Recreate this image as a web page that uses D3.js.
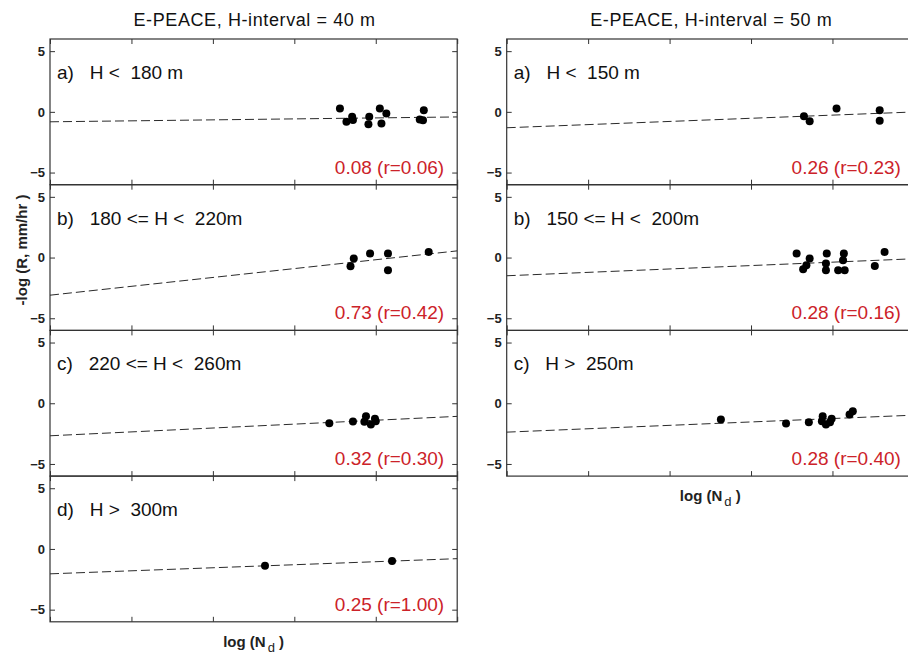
<!DOCTYPE html>
<html>
<head>
<meta charset="utf-8">
<script src="https://cdn.jsdelivr.net/npm/d3@7"></script>
<style>
  html, body { margin: 0; padding: 0; background: #fff; }
  svg { display: block; font-family: "Liberation Sans", Arial, sans-serif; }
  .pre { white-space: pre; }
</style>
</head>
<body>
<svg id="chart" width="908" height="656"></svg>
<script>
// Rain-rate sensitivity to droplet number, binned by cloud thickness H.
const xDomain = [0, 5];
const yDomain = [-6, 6];
const xTicks = [0, 1, 2, 3, 4, 5];
const yTicks = [-5, 0, 5];

const columnTitles = ["E-PEACE, H-interval = 40 m", "E-PEACE, H-interval = 50 m"];

// 40 m bins
const labels40 = ["a)   H <  180 m", "b)   180 <= H <  220m", "c)   220 <= H <  260m", "d)   H >  300m"];
const slopes40 = [0.08, 0.73, 0.32, 0.25];
const rValues40 = [0.06, 0.42, 0.30, 1.00];
const intercepts40 = [-0.82, -3.10, -2.68, -2.05];
const points40a = [[3.56, 0.28], [3.64, -0.82], [3.72, -0.68], [3.71, -0.41], [3.92, -0.41], [3.91, -1.03],
                   [4.05, 0.28], [4.07, -0.95], [4.13, -0.13], [4.59, 0.14], [4.54, -0.62], [4.58, -0.70]];
const points40b = [[3.69, -0.71], [3.73, -0.08], [3.93, 0.33], [4.15, 0.33], [4.15, -1.04], [4.65, 0.46]];
const points40c = [[3.43, -1.64], [3.72, -1.50], [3.88, -1.07], [3.86, -1.53], [3.94, -1.75], [3.99, -1.28], [4.00, -1.48]];
const points40d = [[2.64, -1.39], [4.20, -1.00]];

// 50 m bins
const labels50 = ["a)   H <  150 m", "b)   150 <= H <  200m", "c)   H >  250m"];
const slopes50 = [0.26, 0.28, 0.28];
const rValues50 = [0.23, 0.16, 0.40];
const intercepts50 = [-1.31, -1.50, -2.38];
const points50a = [[3.65, -0.36], [3.72, -0.77], [4.05, 0.27], [4.58, 0.14], [4.58, -0.74]];
const points50b = [[3.56, 0.33], [3.72, -0.08], [3.68, -0.63], [3.64, -0.96], [3.93, 0.33], [3.92, -0.49],
                   [3.92, -1.04], [4.14, 0.33], [4.13, -0.22], [4.07, -1.04], [4.15, -1.04], [4.52, -0.69], [4.64, 0.46]];
const points50c = [[2.63, -1.34], [3.43, -1.67], [3.71, -1.56], [3.88, -1.07], [3.87, -1.48], [3.92, -1.75],
                   [3.99, -1.28], [3.97, -1.56], [4.21, -0.93], [4.25, -0.66]];

const columns = [
  { title: columnTitles[0], labels: labels40, slopes: slopes40, rs: rValues40, icpt: intercepts40,
    pts: [points40a, points40b, points40c, points40d], left: 50, yLabel: true },
  { title: columnTitles[1], labels: labels50, slopes: slopes50, rs: rValues50, icpt: intercepts50,
    pts: [points50a, points50b, points50c], left: 506.7, yLabel: false }
];

const panelW = 407.2, panelH = 145.7, top0 = 39;
const frameColor = "#333";
const fmt = d3.format(".2f");

const svg = d3.select("#chart");

columns.forEach(col => {
  const x = d3.scaleLinear().domain(xDomain).range([col.left, col.left + panelW]);
  const cx = col.left + panelW / 2;

  svg.append("text")
    .attr("x", cx + 1).attr("y", 26)
    .attr("text-anchor", "middle")
    .attr("font-size", 18).attr("letter-spacing", 0.6)
    .attr("fill", "#111")
    .text(col.title);

  col.labels.forEach((lab, i) => {
    const top = top0 + i * panelH;
    const y = d3.scaleLinear().domain(yDomain).range([top + panelH, top]);
    const g = svg.append("g");

    const clipId = `clip-${col.left | 0}-${i}`;
    g.append("clipPath").attr("id", clipId)
      .append("rect").attr("x", col.left).attr("y", top).attr("width", panelW).attr("height", panelH);

    // inward ticks on all four sides
    const axB = d3.axisBottom(x).tickValues(xTicks).tickSizeInner(-5).tickSizeOuter(0).tickFormat("");
    const axT = d3.axisTop(x).tickValues(xTicks).tickSizeInner(-5).tickSizeOuter(0).tickFormat("");
    const axL = d3.axisLeft(y).tickValues(yTicks).tickSizeInner(-5).tickSizeOuter(0).tickPadding(5);
    const axR = d3.axisRight(y).tickValues(yTicks).tickSizeInner(-5).tickSizeOuter(0).tickFormat("");

    [[axB, `translate(0,${top + panelH})`], [axT, `translate(0,${top})`],
     [axL, `translate(${col.left},0)`], [axR, `translate(${col.left + panelW},0)`]].forEach(([ax, tr]) => {
      const a = g.append("g").attr("transform", tr).call(ax);
      a.select(".domain").remove();
      a.selectAll("line").attr("stroke", frameColor);
      a.selectAll("text").attr("font-size", 13).attr("font-weight", "bold")
        .attr("fill", "#222").attr("font-family", "Liberation Sans, Arial, sans-serif");
    });

    g.append("rect")
      .attr("x", col.left).attr("y", top).attr("width", panelW).attr("height", panelH)
      .attr("fill", "none").attr("stroke", frameColor).attr("stroke-width", 1.2);

    // fitted line: intercept + slope * x
    const line = d3.line().x(d => x(d)).y(d => y(col.icpt[i] + col.slopes[i] * d));
    g.append("path")
      .attr("clip-path", `url(#${clipId})`)
      .attr("d", line(xDomain))
      .attr("fill", "none").attr("stroke", "#2a2a2a").attr("stroke-width", 1)
      .attr("stroke-dasharray", "9,4");

    g.append("g").selectAll("circle").data(col.pts[i]).join("circle")
      .attr("cx", d => x(d[0])).attr("cy", d => y(d[1])).attr("r", 4)
      .attr("fill", "#000");

    g.append("text").attr("class", "pre")
      .attr("x", col.left + 7).attr("y", top + 40)
      .attr("font-size", 19).attr("fill", "#111")
      .text(lab);

    g.append("text")
      .attr("x", col.left + panelW - 13).attr("y", top + 134.5)
      .attr("text-anchor", "end")
      .attr("font-size", 19).attr("fill", "#cc2229")
      .text(`${fmt(col.slopes[i])} (r=${fmt(col.rs[i])})`);
  });

  const bottom = top0 + col.labels.length * panelH;
  const xl = svg.append("text")
    .attr("x", cx).attr("y", bottom + 25)
    .attr("text-anchor", "middle")
    .attr("font-size", 15).attr("font-weight", "bold").attr("fill", "#222");
  xl.append("tspan").text("log (N");
  xl.append("tspan").attr("font-size", 13).attr("font-weight", "normal").attr("dx", 2).attr("dy", 5).text("d");
  xl.append("tspan").attr("dy", -5).text(" )");

  if (col.yLabel) {
    svg.append("text")
      .attr("transform", "translate(27,250) rotate(-90)")
      .attr("text-anchor", "middle")
      .attr("font-size", 15).attr("font-weight", "bold").attr("fill", "#222")
      .text("-log (R, mm/hr )");
  }
});
</script>
</body>
</html>
